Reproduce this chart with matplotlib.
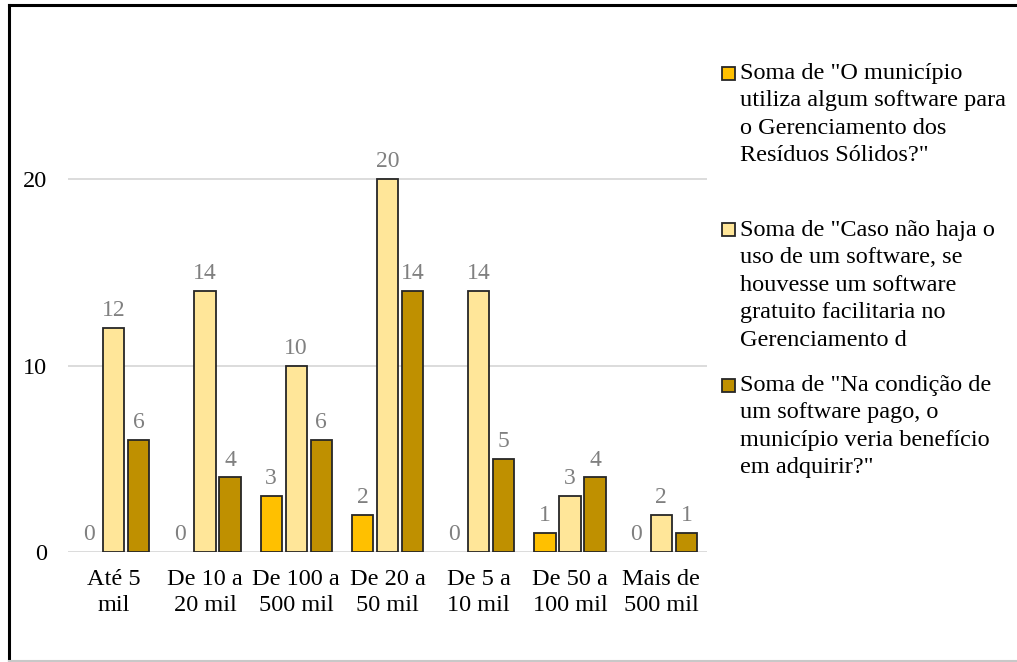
import matplotlib
matplotlib.use("Agg")
import matplotlib.pyplot as plt
import numpy as np
from matplotlib.lines import Line2D
from matplotlib.patches import Rectangle

plt.rcParams['font.family'] = ['Liberation Serif', 'DejaVu Serif']

categories = ["Até 5\nmil", "De 10 a\n20 mil", "De 100 a\n500 mil", "De 20 a\n50 mil",
              "De 5 a\n10 mil", "De 50 a\n100 mil", "Mais de\n500 mil"]
usa_software = [0, 0, 3, 2, 0, 1, 0]
software_gratuito = [12, 14, 10, 20, 14, 3, 2]
software_pago = [6, 4, 6, 14, 5, 4, 1]

series_labels = [
    'Soma de "O município\nutiliza algum software para\no Gerenciamento dos\nResíduos Sólidos?"',
    'Soma de "Caso não haja o\nuso de um software, se\nhouvesse um software\ngratuito facilitaria no\nGerenciamento d',
    'Soma de "Na condição de\num software pago, o\nmunicípio veria benefício\nem adquirir?"',
]
series_colors = ["#FFC000", "#FFE699", "#BF9000"]
yticks = [0, 10, 20]

W, H = 1017, 662
fig = plt.figure(figsize=(W / 100, H / 100), dpi=100)

# plot area in pixel units
x0, x1, y_zero, y_top = 68, 707, 552, 30
ax = fig.add_axes([x0 / W, (H - y_zero) / H, (x1 - x0) / W, (y_zero - y_top) / H])
ymax = (y_zero - y_top) / 18.63

x = np.arange(len(categories))
width = 0.232
step = 0.274
all_series = [usa_software, software_gratuito, software_pago]
for i, (vals, col) in enumerate(zip(all_series, series_colors)):
    pos = x + (i - 1) * step
    bars = ax.bar(pos, vals, width=width, color=col, edgecolor="#262626",
                  linewidth=1.3, zorder=3)
    for b, v in zip(bars, vals):
        if v == 0:
            b.set_linewidth(0)
        ax.annotate(str(v), (b.get_x() + b.get_width() / 2, v),
                    xytext=(0, 5), textcoords="offset points",
                    ha="center", va="bottom", fontsize=17, color="#808080")

ax.set_xlim(-0.5, len(categories) - 0.5)
ax.set_ylim(0, ymax)
ax.set_yticks(yticks)
ax.set_yticklabels([str(t) for t in yticks], fontsize=17.5)
ax.set_xticks(x)
ax.set_xticklabels(categories, fontsize=17.5, linespacing=1.35)
ax.tick_params(axis="both", length=0, colors="black")
ax.tick_params(axis="y", pad=15)
ax.tick_params(axis="x", pad=12)
for t in yticks:
    ax.axhline(t, color="#D9D9D9", linewidth=1.3, zorder=1)
for s in ax.spines.values():
    s.set_visible(False)
ax.patch.set_alpha(0)

# legend entries drawn in figure pixel coordinates
legend_y = [73, 230, 385]
for lbl, col, ly in zip(series_labels, series_colors, legend_y):
    fig.add_artist(Rectangle((722 / W, 1 - (ly + 6.5) / H), 13 / W, 13 / H,
                             facecolor=col, edgecolor="#262626", linewidth=1.3,
                             transform=fig.transFigure))
    fig.text(740 / W, 1 - (ly - 10) / H, lbl, fontsize=17.5, va="top", ha="left",
             linespacing=1.4)

# outer frame
fig.add_artist(Line2D([9 / W, 9 / W], [0, 1 - 5 / H], color="black", linewidth=2.2,
                      transform=fig.transFigure))
fig.add_artist(Line2D([9 / W, 1], [1 - 5 / H, 1 - 5 / H], color="black", linewidth=2.2,
                      transform=fig.transFigure))
fig.add_artist(Line2D([9 / W, 1], [1.5 / H, 1.5 / H], color="#C8C8C8", linewidth=1.5,
                      transform=fig.transFigure))

fig.savefig("out.png", dpi=100)
